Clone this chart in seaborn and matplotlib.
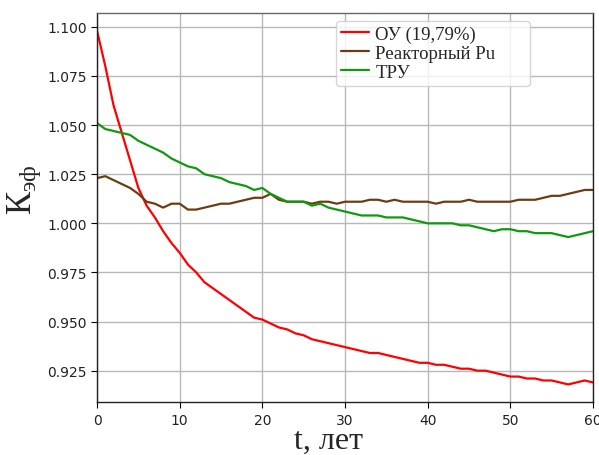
import numpy as np
import pandas as pd
import matplotlib
matplotlib.use("Agg")
import matplotlib.pyplot as plt
import seaborn as sns

years = list(range(0, 61))

ou = [1.098, 1.080, 1.060, 1.046, 1.032, 1.018, 1.009, 1.003, 0.996, 0.990,
      0.985, 0.979, 0.975, 0.970, 0.967, 0.964, 0.961, 0.958, 0.955, 0.952,
      0.951, 0.949, 0.947, 0.946, 0.944, 0.943, 0.941, 0.940, 0.939, 0.938,
      0.937, 0.936, 0.935, 0.934, 0.934, 0.933, 0.932, 0.931, 0.930, 0.929,
      0.929, 0.928, 0.928, 0.927, 0.926, 0.926, 0.925, 0.925, 0.924, 0.923,
      0.922, 0.922, 0.921, 0.921, 0.920, 0.920, 0.919, 0.918, 0.919, 0.920,
      0.919]

pu = [1.023, 1.024, 1.022, 1.020, 1.018, 1.015, 1.011, 1.010, 1.008, 1.010,
      1.010, 1.007, 1.007, 1.008, 1.009, 1.010, 1.010, 1.011, 1.012, 1.013,
      1.013, 1.015, 1.012, 1.011, 1.011, 1.011, 1.010, 1.011, 1.011, 1.010,
      1.011, 1.011, 1.011, 1.012, 1.012, 1.011, 1.012, 1.011, 1.011, 1.011,
      1.011, 1.010, 1.011, 1.011, 1.011, 1.012, 1.011, 1.011, 1.011, 1.011,
      1.011, 1.012, 1.012, 1.012, 1.013, 1.014, 1.014, 1.015, 1.016, 1.017,
      1.017]

tru = [1.051, 1.048, 1.047, 1.046, 1.045, 1.042, 1.040, 1.038, 1.036, 1.033,
       1.031, 1.029, 1.028, 1.025, 1.024, 1.023, 1.021, 1.020, 1.019, 1.017,
       1.018, 1.015, 1.013, 1.011, 1.011, 1.011, 1.009, 1.010, 1.008, 1.007,
       1.006, 1.005, 1.004, 1.004, 1.004, 1.003, 1.003, 1.003, 1.002, 1.001,
       1.000, 1.000, 1.000, 1.000, 0.999, 0.999, 0.998, 0.997, 0.996, 0.997,
       0.997, 0.996, 0.996, 0.995, 0.995, 0.995, 0.994, 0.993, 0.994, 0.995,
       0.996]

series_names = ["ОУ (19,79%)", "Реакторный Pu", "ТРУ"]
series_colors = ["#ff0000", "#6b3e12", "#109910"]
x_ticks = [0, 10, 20, 30, 40, 50, 60]
y_ticks = [0.925, 0.950, 0.975, 1.000, 1.025, 1.050, 1.075, 1.100]

df = pd.DataFrame({
    "t": years * 3,
    "k": ou + pu + tru,
    "series": [series_names[0]] * len(years) + [series_names[1]] * len(years) + [series_names[2]] * len(years),
})

sns.set_style("whitegrid")
plt.rcParams["mathtext.fontset"] = "custom"
plt.rcParams["mathtext.rm"] = "Liberation Serif"
plt.rcParams["mathtext.it"] = "Liberation Serif:italic"

fig = plt.figure(figsize=(5.99, 4.56), dpi=100)
ax = fig.add_axes([0.162, 0.116, 0.828, 0.853])

sns.lineplot(data=df, x="t", y="k", hue="series", palette=dict(zip(series_names, series_colors)),
             linewidth=1.6, ax=ax)

ax.set_xlim(0, 60)
ax.set_ylim(0.909, 1.107)
ax.set_xticks(x_ticks)
ax.set_yticks(y_ticks)
ax.set_yticklabels([f"{v:.3f}" for v in y_ticks])
ax.tick_params(axis="both", labelsize=10, length=4, colors="black", direction="out",
               bottom=True, left=True, labelcolor="#222222")
ax.grid(True, color="#b8b8b8", linewidth=1.0)
for s in ax.spines.values():
    s.set_color("#222222")
    s.set_linewidth(1.0)
ax.spines["top"].set_color("#666666")

ax.set_xlabel("t, лет", fontsize=23, family="Liberation Serif")
ax.xaxis.set_label_coords(0.466, -0.06)
ax.set_ylabel(r"$\mathrm{К}_{\mathrm{эф}}$", fontsize=25)
ax.yaxis.set_label_coords(-0.108, 0.548)

leg_h = 0.16
leg = ax.legend(loc="upper left", bbox_to_anchor=(0.482, 0.98 - leg_h, 0.391, leg_h), mode="expand",
                frameon=True, prop={"family": "Liberation Serif", "size": 13.5},
                handlelength=1.5, borderpad=0.25, labelspacing=0.1, handletextpad=0.35,
                borderaxespad=0.0)
leg.get_frame().set_edgecolor("#cccccc")
leg.set_title(None)

fig.savefig("out.png", dpi=100)
